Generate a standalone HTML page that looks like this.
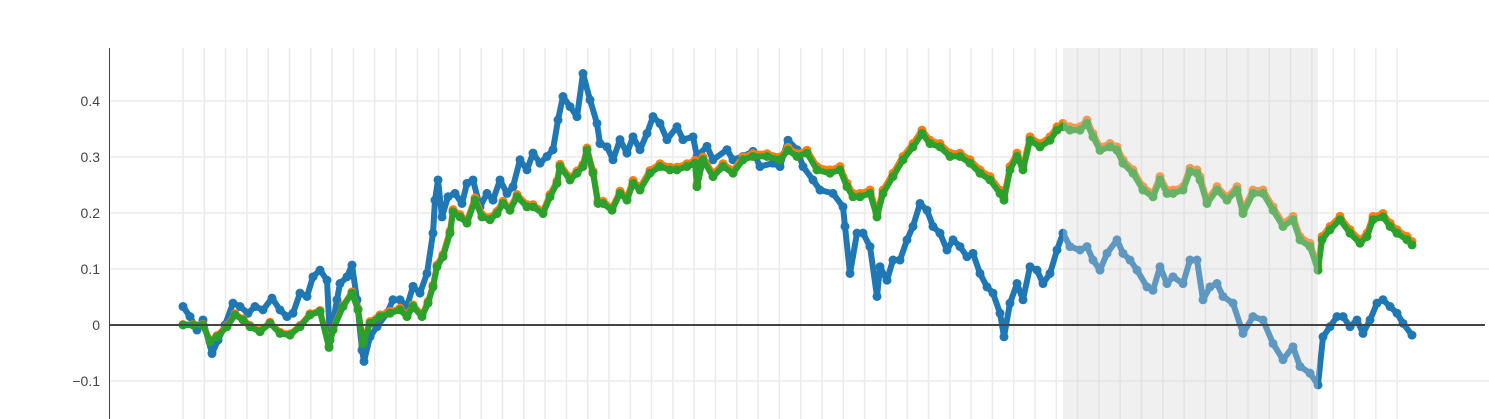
<!DOCTYPE html>
<html><head><meta charset="utf-8"><style>
html,body{margin:0;padding:0;background:#fff;width:1489px;height:419px;overflow:hidden;}
svg{display:block;font-family:"Liberation Sans",Arial,sans-serif;overflow:hidden;}
</style></head><body>
<svg id="chart" width="1489" height="419" viewBox="0 0 1489 419" xmlns="http://www.w3.org/2000/svg">
<g id="grid"></g>
<g id="series"></g>
<g id="overlay"></g>
<g id="axes"></g>
</svg>
<script>
const yTicks = [0.4, 0.3, 0.2, 0.1, 0, -0.1, -0.2];
const yTickLabels = ["0.4", "0.3", "0.2", "0.1", "0", "\u22120.1", "\u22120.2"];
const highlightRange = [880, 1135];
const blueSeries = [[0,0.033],[7,0.015],[14,-0.009],[20,0.009],[29,-0.051],[35,-0.027],[42,0],[50,0.039],[57,0.033],[65,0.021],[72,0.033],[80,0.027],[89,0.048],[97,0.027],[104,0.015],[110,0.021],[117,0.057],[124,0.051],[130,0.086],[137,0.098],[144,0.080],[147,-0.027],[154,0.045],[157,0.074],[164,0.086],[169,0.107],[174,0.045],[179,-0.045],[181,-0.065],[187,-0.021],[194,-0.003],[204,0.021],[210,0.045],[217,0.045],[224,0.033],[230,0.069],[237,0.057],[244,0.092],[250,0.164],[252,0.223],[255,0.259],[259,0.193],[265,0.229],[272,0.235],[279,0.217],[284,0.253],[290,0.259],[297,0.211],[304,0.235],[310,0.223],[317,0.259],[324,0.235],[330,0.247],[337,0.295],[344,0.277],[350,0.307],[357,0.289],[364,0.301],[370,0.313],[375,0.366],[380,0.408],[387,0.390],[394,0.372],[400,0.449],[407,0.402],[414,0.360],[417,0.324],[424,0.318],[430,0.295],[437,0.331],[444,0.307],[450,0.336],[457,0.313],[464,0.342],[470,0.372],[477,0.360],[484,0.331],[494,0.354],[500,0.331],[510,0.336],[514,0.301],[524,0.319],[530,0.295],[544,0.313],[550,0.295],[560,0.301],[570,0.310],[577,0.283],[590,0.289],[597,0.283],[605,0.330],[614,0.313],[620,0.283],[630,0.259],[637,0.241],[650,0.235],[660,0.211],[662,0.176],[667,0.092],[674,0.164],[680,0.164],[687,0.140],[694,0.051],[697,0.104],[704,0.080],[710,0.116],[717,0.116],[724,0.152],[730,0.176],[737,0.217],[744,0.205],[750,0.176],[757,0.164],[764,0.134],[770,0.152],[777,0.140],[784,0.122],[790,0.128],[797,0.092],[804,0.068],[810,0.057],[817,0.021],[821,-0.021],[827,0.039],[834,0.074],[840,0.045],[847,0.104],[854,0.098],[860,0.074],[867,0.092],[874,0.134],[880,0.164],[887,0.140],[897,0.134],[904,0.140],[910,0.116],[917,0.098],[924,0.128],[934,0.152],[940,0.128],[947,0.116],[954,0.098],[964,0.068],[970,0.062],[977,0.104],[984,0.074],[990,0.086],[1000,0.074],[1007,0.116],[1014,0.116],[1020,0.045],[1027,0.068],[1034,0.074],[1040,0.051],[1050,0.039],[1060,-0.015],[1070,0.015],[1080,0.009],[1090,-0.033],[1100,-0.062],[1110,-0.039],[1117,-0.074],[1127,-0.086],[1135,-0.107],[1140,-0.021],[1147,-0.003],[1154,0.015],[1160,0.015],[1167,-0.003],[1174,0.009],[1180,-0.015],[1187,0.009],[1194,0.039],[1200,0.045],[1207,0.033],[1214,0.021],[1220,0.003],[1229,-0.018]];
const greenSeries = [[0,0],[10,0],[20,0],[27,-0.030],[34,-0.021],[44,-0.003],[52,0.018],[60,0.009],[67,-0.003],[77,-0.012],[87,0.003],[97,-0.015],[107,-0.018],[117,-0.003],[127,0.018],[137,0.024],[146,-0.040],[150,-0.009],[160,0.033],[169,0.057],[175,0.027],[180,-0.033],[187,0.003],[197,0.015],[207,0.021],[217,0.027],[224,0.015],[230,0.033],[239,0.015],[245,0.039],[250,0.068],[254,0.104],[260,0.122],[267,0.164],[270,0.202],[277,0.193],[284,0.182],[292,0.223],[299,0.193],[307,0.188],[314,0.199],[320,0.217],[327,0.205],[334,0.229],[344,0.211],[350,0.211],[360,0.199],[367,0.229],[374,0.253],[377,0.283],[387,0.259],[394,0.271],[400,0.283],[404,0.312],[410,0.271],[415,0.217],[420,0.217],[429,0.205],[437,0.235],[444,0.223],[450,0.253],[457,0.241],[467,0.271],[477,0.283],[487,0.277],[494,0.277],[504,0.283],[512,0.289],[514,0.247],[520,0.295],[530,0.265],[540,0.283],[550,0.271],[560,0.295],[570,0.301],[584,0.301],[597,0.295],[605,0.312],[614,0.301],[624,0.307],[634,0.277],[647,0.271],[657,0.277],[664,0.247],[670,0.229],[677,0.229],[687,0.235],[694,0.193],[700,0.235],[710,0.265],[720,0.295],[730,0.318],[739,0.342],[747,0.324],[757,0.318],[767,0.301],[777,0.301],[787,0.289],[797,0.271],[807,0.259],[817,0.235],[821,0.223],[827,0.277],[834,0.301],[840,0.277],[847,0.330],[857,0.318],[867,0.330],[874,0.348],[880,0.354],[887,0.348],[897,0.348],[904,0.360],[910,0.336],[917,0.312],[927,0.318],[934,0.312],[940,0.289],[950,0.271],[960,0.241],[970,0.229],[977,0.259],[984,0.235],[990,0.235],[1000,0.241],[1007,0.274],[1014,0.271],[1017,0.259],[1024,0.217],[1034,0.241],[1044,0.223],[1054,0.241],[1060,0.199],[1070,0.235],[1080,0.235],[1090,0.205],[1100,0.176],[1110,0.188],[1117,0.152],[1127,0.140],[1135,0.098],[1139,0.152],[1147,0.170],[1157,0.188],[1167,0.164],[1177,0.146],[1184,0.158],[1190,0.188],[1200,0.193],[1207,0.176],[1214,0.164],[1224,0.152],[1229,0.143]];
const orangeSeries = [[0,0.001],[10,0.001],[20,0.001],[27,-0.028],[34,-0.019],[44,-0.001],[52,0.020],[60,0.011],[67,-0.001],[77,-0.010],[87,0.005],[97,-0.013],[107,-0.016],[117,-0.001],[127,0.020],[137,0.026],[146,-0.038],[150,-0.007],[160,0.035],[169,0.059],[175,0.029],[180,-0.031],[187,0.006],[197,0.018],[207,0.024],[217,0.030],[224,0.018],[230,0.036],[239,0.018],[245,0.042],[250,0.071],[254,0.107],[260,0.126],[267,0.168],[270,0.206],[277,0.197],[284,0.186],[292,0.227],[299,0.197],[307,0.192],[314,0.203],[320,0.221],[327,0.209],[334,0.233],[344,0.215],[350,0.215],[360,0.203],[367,0.233],[374,0.257],[377,0.287],[387,0.263],[394,0.275],[400,0.287],[404,0.316],[410,0.275],[415,0.221],[420,0.221],[429,0.209],[437,0.239],[444,0.228],[450,0.258],[457,0.246],[467,0.276],[477,0.288],[487,0.282],[494,0.282],[504,0.288],[512,0.294],[514,0.252],[520,0.300],[530,0.270],[540,0.288],[550,0.276],[560,0.300],[570,0.306],[584,0.306],[597,0.300],[605,0.317],[614,0.306],[624,0.312],[634,0.283],[647,0.277],[657,0.283],[664,0.253],[670,0.235],[677,0.235],[687,0.241],[694,0.199],[700,0.241],[710,0.271],[720,0.301],[730,0.324],[739,0.348],[747,0.330],[757,0.324],[767,0.307],[777,0.307],[787,0.295],[797,0.277],[807,0.265],[817,0.241],[821,0.229],[827,0.283],[834,0.307],[840,0.283],[847,0.336],[857,0.324],[867,0.336],[874,0.354],[880,0.360],[887,0.354],[897,0.354],[904,0.366],[910,0.342],[917,0.318],[927,0.324],[934,0.318],[940,0.295],[950,0.277],[960,0.247],[970,0.235],[977,0.265],[984,0.241],[990,0.241],[1000,0.247],[1007,0.280],[1014,0.277],[1017,0.265],[1024,0.223],[1034,0.247],[1044,0.229],[1054,0.247],[1060,0.205],[1070,0.241],[1080,0.241],[1090,0.211],[1100,0.182],[1110,0.194],[1117,0.158],[1127,0.146],[1135,0.104],[1139,0.158],[1147,0.176],[1157,0.194],[1167,0.170],[1177,0.152],[1184,0.164],[1190,0.194],[1200,0.199],[1207,0.182],[1214,0.170],[1224,0.158],[1229,0.149]];

const NS = "http://www.w3.org/2000/svg";
const plotTop = 48, plotBottom = 419, plotLeft = 110, plotRight = 1489;
function xScale(t){ return 183 + t; }
function yScale(v){ return 325 - 560 * v; }
function mk(tag, attrs, parent){
  const e = document.createElementNS(NS, tag);
  for (const k in attrs) e.setAttribute(k, attrs[k]);
  parent.appendChild(e);
  return e;
}
const grid = document.getElementById('grid');
const series = document.getElementById('series');
const overlay = document.getElementById('overlay');
const axes = document.getElementById('axes');

for (let t = 0; t <= 1215; t += 21.3) {
  const l = mk('line', {x1: xScale(t), x2: xScale(t), y1: plotTop, y2: plotBottom, stroke: '#ebebeb', 'stroke-width': 1.5}, grid);
  
  
}
yTicks.forEach((v, i) => {
  const y = yScale(v);
  if (v !== 0 && y < plotBottom) {
    const l = mk('line', {x1: plotLeft, x2: plotRight, y1: y, y2: y, stroke: '#ebebeb', 'stroke-width': 1.5}, grid);
    
    
  }
  if (y + 5 < 440) {
    const tx = mk('text', {x: 100, y: y + 5, 'text-anchor': 'end', 'font-size': 14, fill: '#444'}, axes);
    tx.textContent = yTickLabels[i];
    
    
  }
});

function drawSeries(data, color, name){
  const g = mk('g', {}, series);
  
  
  const pts = data.map(d => xScale(d[0]).toFixed(1) + ',' + yScale(d[1]).toFixed(1)).join(' ');
  const pl = mk('polyline', {points: pts, fill: 'none', stroke: color, 'stroke-width': 6, 'stroke-linejoin': 'round', 'stroke-linecap': 'round'}, g);
  
  
  data.forEach(d => {
    const c = mk('circle', {cx: xScale(d[0]), cy: yScale(d[1]), r: 4.5, fill: color}, g);
    
    
  });
}
drawSeries(blueSeries, '#1f77b4', 'blue-series');
drawSeries(orangeSeries, '#ff7f0e', 'orange-series');
drawSeries(greenSeries, '#2ca02c', 'green-series');

const z = mk('line', {x1: plotLeft, x2: 1485, y1: yScale(0), y2: yScale(0), stroke: '#444', 'stroke-width': 2}, axes);



const hb = mk('rect', {x: xScale(highlightRange[0]), y: plotTop, width: xScale(highlightRange[1]) - xScale(highlightRange[0]), height: plotBottom - plotTop, fill: '#d3d3d3', 'fill-opacity': 0.35}, overlay);



const ya = mk('line', {x1: 109.5, x2: 109.5, y1: plotTop, y2: plotBottom, stroke: '#444', 'stroke-width': 1}, axes);


</script>
</body></html>
